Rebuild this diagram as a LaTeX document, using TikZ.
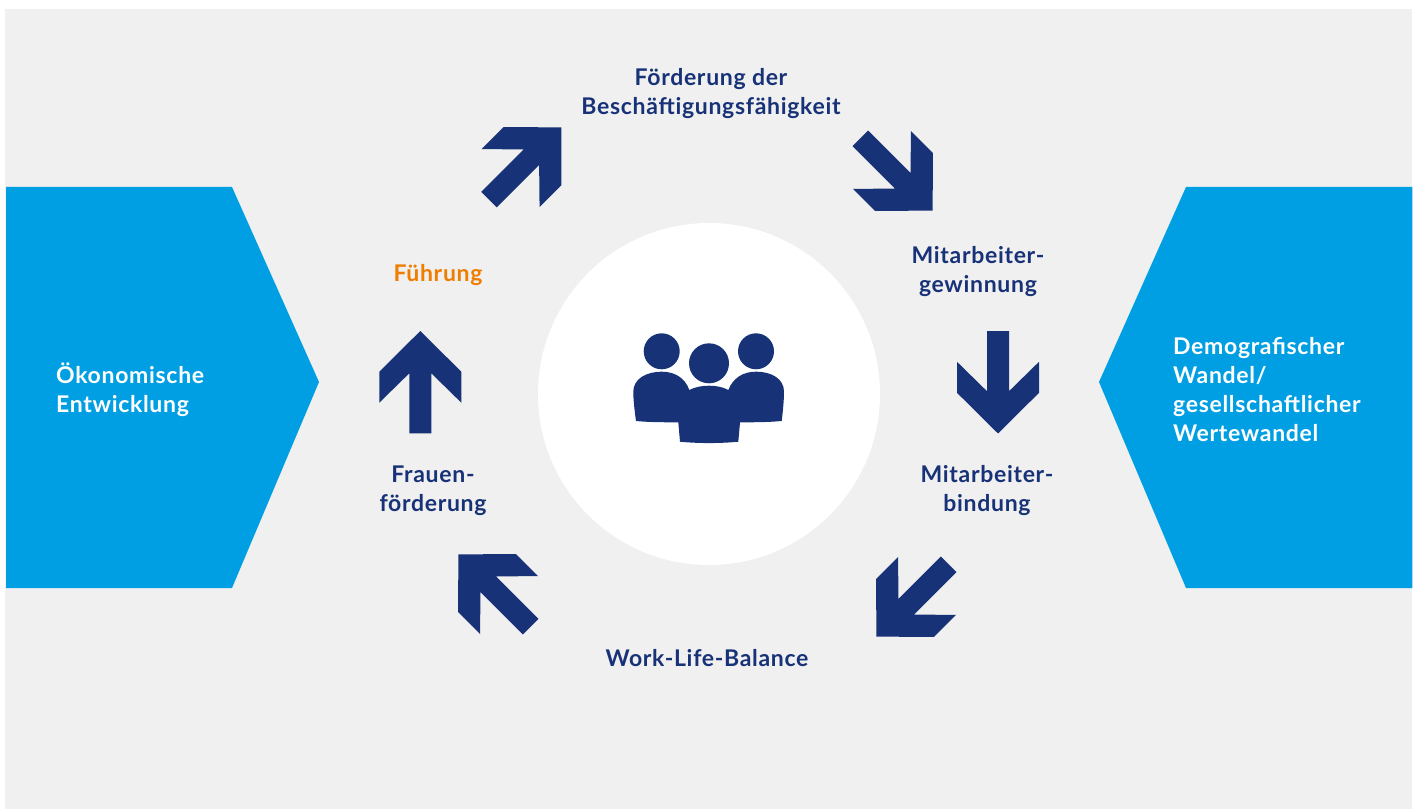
\documentclass[tikz,border=0pt]{standalone}
\usepackage{fontspec}
\setmainfont[LetterSpace=3]{Lato}
\usepackage{tikz}
\definecolor{panelgrey}{RGB}{ 240, 240, 240 }
\definecolor{skyblue}{RGB}{ 0, 159, 227 }
\definecolor{navy}{RGB}{ 24, 50, 120 }
\definecolor{amber}{RGB}{ 239, 125, 0 }
\tikzset{
    pics/ringarrow/.style={code={
        \fill[navy] (0,-51)--(41,-10.3)--(41,20.7)--(11,-8.7)--(11,51.3)
            --(-11,51.3)--(-11,-8.7)--(-41,20.7)--(-41,-10.3)--cycle;
    }}
}

\begin{document}
\begin{tikzpicture}[x=1pt,y=-1pt,font=\fontsize{23}{29}\selectfont\bfseries]
\tikzstyle{topic}=[text=navy,align=center,inner sep=0]
\tikzstyle{driver}=[text=white,align=left,inner sep=0,anchor=west]
\tikzstyle{head}=[circle,fill=navy,inner sep=0]

\useasboundingbox (0,0) rectangle (1416,810);
\fill[panelgrey] (5,9) rectangle (1412.4,809);

% side panels
\fill[skyblue] (6,187)--(232,187)--(319,382)--(232,588)--(6,588)--cycle;
\fill[skyblue] (1412.4,187)--(1186,187)--(1099,382)--(1186,588)--(1412.4,588)--cycle;
\node(econ)[driver] at (56,389.5) {Ökonomische\\Entwicklung};
\node(demo)[driver] at (1173,389.5) {Demografischer\\Wandel/\\gesellschaftlicher\\Wertewandel};

% centre disc
\node(disc)[circle,fill=white,inner sep=0,minimum size=342pt] at (709,394) {};

% people
\node(headl)[head,minimum size=36pt] at (661.7,351.3) {};
\node(headr)[head,minimum size=36pt] at (756,351.3) {};
\node(headc)[head,minimum size=40pt] at (709,363.3) {};
\fill[navy] (636,421) .. controls (634.5,410) and (633.3,400) .. (633.3,391.7)
    .. controls (633.3,379) and (646,371.7) .. (661.7,371.7)
    .. controls (675,371.7) and (685,378) .. (689.3,390)
    .. controls (695,387) and (702,385.7) .. (709,385.7)
    .. controls (716,385.7) and (723,387) .. (728.3,390)
    .. controls (733,378) and (743,371.7) .. (756,371.7)
    .. controls (772,371.7) and (784,379) .. (784,391.7)
    .. controls (784,400) and (783,410) .. (781.7,421)
    .. controls (768,422.3) and (754,422.3) .. (740,422.3)
    -- (738.3,441.7) .. controls (720,443.5) and (698,443.5) .. (680,441.7)
    -- (678.3,422.3) .. controls (664,422.3) and (650,422.3) .. (636,421) -- cycle;

% arrows round the disc
\foreach \cx/\cy/\ang in {420.3/382/0,525.2/163.4/-45,896.6/174.6/-135,998/382.5/180,912.4/600.6/135,494.4/590.4/45}
    \pic[rotate=\ang] at (\cx,\cy) {ringarrow};

% topics
\node(foerd)[topic] at (711,94) {Förderung der\\Beschäftigungsfähigkeit};
\node(gewin)[topic] at (978,272) {Mitarbeiter-\\gewinnung};
\node(bind)[topic] at (987,491) {Mitarbeiter-\\bindung};
\node(wlb)[topic] at (707,658) {Work-Life-Balance};
\node(frau)[topic] at (433,491) {Frauen-\\förderung};
\node(fuehr)[topic,text=amber] at (438,275.5) {Führung};

\end{tikzpicture}
\end{document}
